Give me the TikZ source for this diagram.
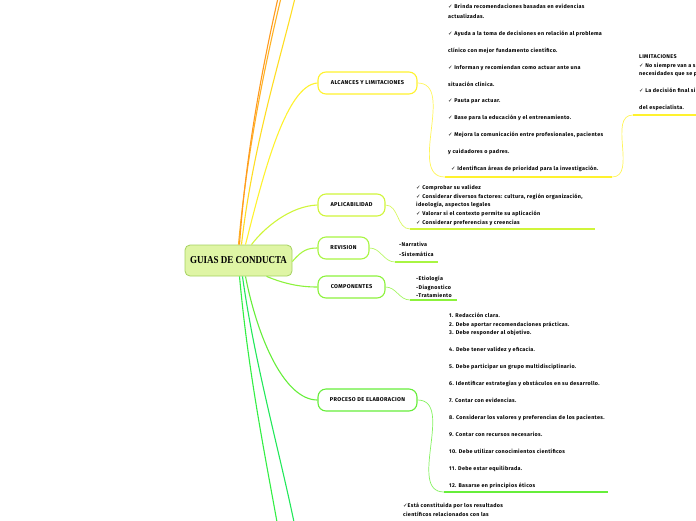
\documentclass[tikz,border=0pt]{standalone}
\usepackage{fontspec}
\setmainfont{Fira Sans}[LetterSpace=6]
\newfontfamily\symfont{DejaVu Sans}
\newfontfamily\rootfont{Liberation Serif}[FakeStretch=0.85]
\usetikzlibrary{positioning}

\definecolor{rootfill}{HTML}{DFF5A5}
\definecolor{rootline}{HTML}{A5D25F}
\definecolor{orangeA}{HTML}{FF9A1F}
\definecolor{orangeB}{HTML}{FFB224}
\definecolor{yellowA}{HTML}{FFDD22}
\definecolor{alcline}{HTML}{FFF22E}
\definecolor{aplline}{HTML}{D0F53A}
\definecolor{revline}{HTML}{A8F542}
\definecolor{compline}{HTML}{8CF23C}
\definecolor{procline}{HTML}{66EE3A}
\definecolor{greenA}{HTML}{33EE44}
\definecolor{greenB}{HTML}{22E85A}

\newcommand{\chk}{{\symfont ✓}\hspace{1.6pt}}
\newcommand{\leaffont}{\fontsize{5.4}{8.5}\selectfont\bfseries}

\begin{document}
\begin{tikzpicture}[x=1pt, y=-1pt,
  topic/.style={draw=#1, line width=1.1pt, rounded corners=8pt, fill=white,
    minimum height=22pt, inner sep=0pt, font=\fontsize{5.6}{6}\selectfont\bfseries},
  leaf/.style={anchor=north west, inner sep=0pt, align=left, font=\leaffont},
  branch/.style={draw=#1, line width=1.1pt},
  twig/.style={draw=#1, line width=0.7pt},
  underline/.style={draw=#1, line width=1.8pt}]
  \useasboundingbox (0,0) rectangle (696,520);

  % central topic
  \node[draw=rootline, fill=rootfill, line width=0.8pt, rounded corners=5pt,
    minimum width=107pt, minimum height=31pt, inner sep=0pt,
    font=\rootfont\fontsize{10.6}{12}\selectfont\bfseries] (root) at (238.5,260.5) {GUIAS DE CONDUCTA};

  % branches leaving the picture
  \coordinate (topA) at (278,-2);
  \coordinate (topB) at (281,-2);
  \coordinate (topC) at (295,-2);
  \coordinate (botA) at (277,522);
  \coordinate (botB) at (294,522);
  \draw[branch=orangeB] ([xshift=0pt]root.north) .. controls (247,150) and (266,60) .. (topB);
  \draw[branch=orangeA] ([xshift=1pt]root.north) .. controls (246,150) and (264,60) .. (topA);
  \draw[branch=yellowA] ([xshift=3pt]root.north) .. controls (252,150) and (280,60) .. (topC);
  \draw[branch=greenA] ([xshift=1pt]root.south) .. controls (248,370) and (264,450) .. (botA);
  \draw[branch=greenB] ([xshift=4pt]root.south) .. controls (254,360) and (279,450) .. (botB);

  % main topics
  \node[topic=alcline, minimum width=99pt] (alc) at (367.5,83) {ALCANCES Y LIMITACIONES};
  \node[topic=aplline, minimum width=67pt] (apl) at (351.5,205) {APLICABILIDAD};
  \node[topic=revline, minimum width=51pt] (rev) at (343.5,248) {REVISION};
  \node[topic=compline, minimum width=67pt] (comp) at (351.5,287) {COMPONENTES};
  \node[topic=procline, minimum width=99pt] (proc) at (367.5,400) {PROCESO DE ELABORACION};

  \draw[branch=alcline] ([xshift=7pt]root.north) .. controls (262,180) and (285,85) .. (alc.west);
  \draw[branch=aplline] ([xshift=13pt]root.north) .. controls (264,228) and (290,206) .. (apl.west);
  \draw[branch=revline] ([yshift=-1pt]root.east) .. controls (302,250) and (308,248) .. (rev.west);
  \draw[branch=compline] ([xshift=28pt]root.south) .. controls (285,284) and (300,287) .. (comp.west);
  \draw[branch=procline] ([xshift=7pt]root.south) .. controls (258,340) and (285,400) .. (proc.west);

  % underlines of the texts
  \coordinate (alcL) at (445,177);  \coordinate (alcR) at (612,177);
  \coordinate (limL) at (633,115);  \coordinate (limR) at (700,115);
  \coordinate (aplL) at (410,229);  \coordinate (aplR) at (595,229);
  \coordinate (revL) at (395,262);  \coordinate (revR) at (438,262);
  \coordinate (compL) at (410,300); \coordinate (compR) at (457,300);
  \coordinate (procL) at (444,492); \coordinate (procR) at (608,492);

  \draw[twig=alcline!80] (alc.east) to[out=0, in=180] (alcL);
  \draw[underline=alcline] (alcL) -- (alcR);
  \draw[twig=alcline!80] (alcR) to[out=0, in=180] (limL);
  \draw[underline=alcline] (limL) -- (limR);
  \draw[twig=aplline!80] (apl.east) to[out=0, in=180] (aplL);
  \draw[underline=aplline] (aplL) -- (aplR);
  \draw[twig=revline!80] (rev.east) to[out=0, in=180] (revL);
  \draw[underline=revline] (revL) -- (revR);
  \draw[twig=compline!80] (comp.east) to[out=0, in=180] (compL);
  \draw[underline=compline] (compL) -- (compR);
  \draw[twig=procline!80] (proc.east) to[out=0, in=180] (procL);
  \draw[underline=procline] (procL) -- (procR);

  % texts
  \node[leaf] (alcText) at (448,3.8) {\chk Brinda recomendaciones basadas en evidencias\\[1.6pt]
    actualizadas.\\[8.4pt]
    \chk Ayuda a la toma de decisiones en relación al problema\\[8.4pt]
    clínico con mejor fundamento científico.\\[8.4pt]
    \chk Informan y recomiendan como actuar ante una\\[8.4pt]
    situación clínica.\\[8.4pt]
    \chk Pauta par actuar.\\[8.4pt]
    \chk Base para la educación y el entrenamiento.\\[8.4pt]
    \chk Mejora la comunicación entre profesionales, pacientes\\[8.4pt]
    y cuidadores o padres.\\[8.4pt]
    \hspace{3pt}\chk Identifican áreas de prioridad para la investigación.};
  \node[leaf] (limText) at (639,54.8) {LIMITACIONES\\
    \chk No siempre van a s\\
    necesidades que se p\\[8.5pt]
    \chk La decisión final si\\[8.5pt]
    del especialista.};
  \node[leaf, font=\fontsize{5.4}{8.75}\selectfont\bfseries] (aplText) at (416,184.8) {\chk Comprobar su validez\\
    \chk Considerar diversos factores: cultura, región organización,\\
    ideología, aspectos legales\\
    \chk Valorar si el contexto permite su aplicación\\
    \chk Considerar preferencias y creencias};
  \node[leaf, font=\fontsize{5.4}{10}\selectfont\bfseries] (revText) at (399,241.8) {-Narrativa\\
    -Sistemática};
  \node[leaf] (compText) at (416,275.8) {-Etiología\\
    -Diagnostico\\
    -Tratamiento};
  \node[leaf] (procText) at (449,312.8) {1. Redacción clara.\\
    2. Debe aportar recomendaciones prácticas.\\
    3. Debe responder al objetivo.\\[8.5pt]
    4. Debe tener validez y eficacia.\\[8.5pt]
    5. Debe participar un grupo multidisciplinario.\\[8.5pt]
    6. Identificar estrategias y obstáculos en su desarrollo.\\[8.5pt]
    7. Contar con evidencias.\\[8.5pt]
    8. Considerar los valores y preferencias de los pacientes.\\[8.5pt]
    9. Contar con recursos necesarios.\\[8.5pt]
    10. Debe utilizar conocimientos científicos\\[8.5pt]
    11. Debe estar equilibrada.\\[8.5pt]
    12. Basarse en principios éticos};
  \node[leaf] (baseText) at (403,502.8) {{\symfont ✓}Está constituida por los resultados\\
    científicos relacionados con las};
\end{tikzpicture}
\end{document}
